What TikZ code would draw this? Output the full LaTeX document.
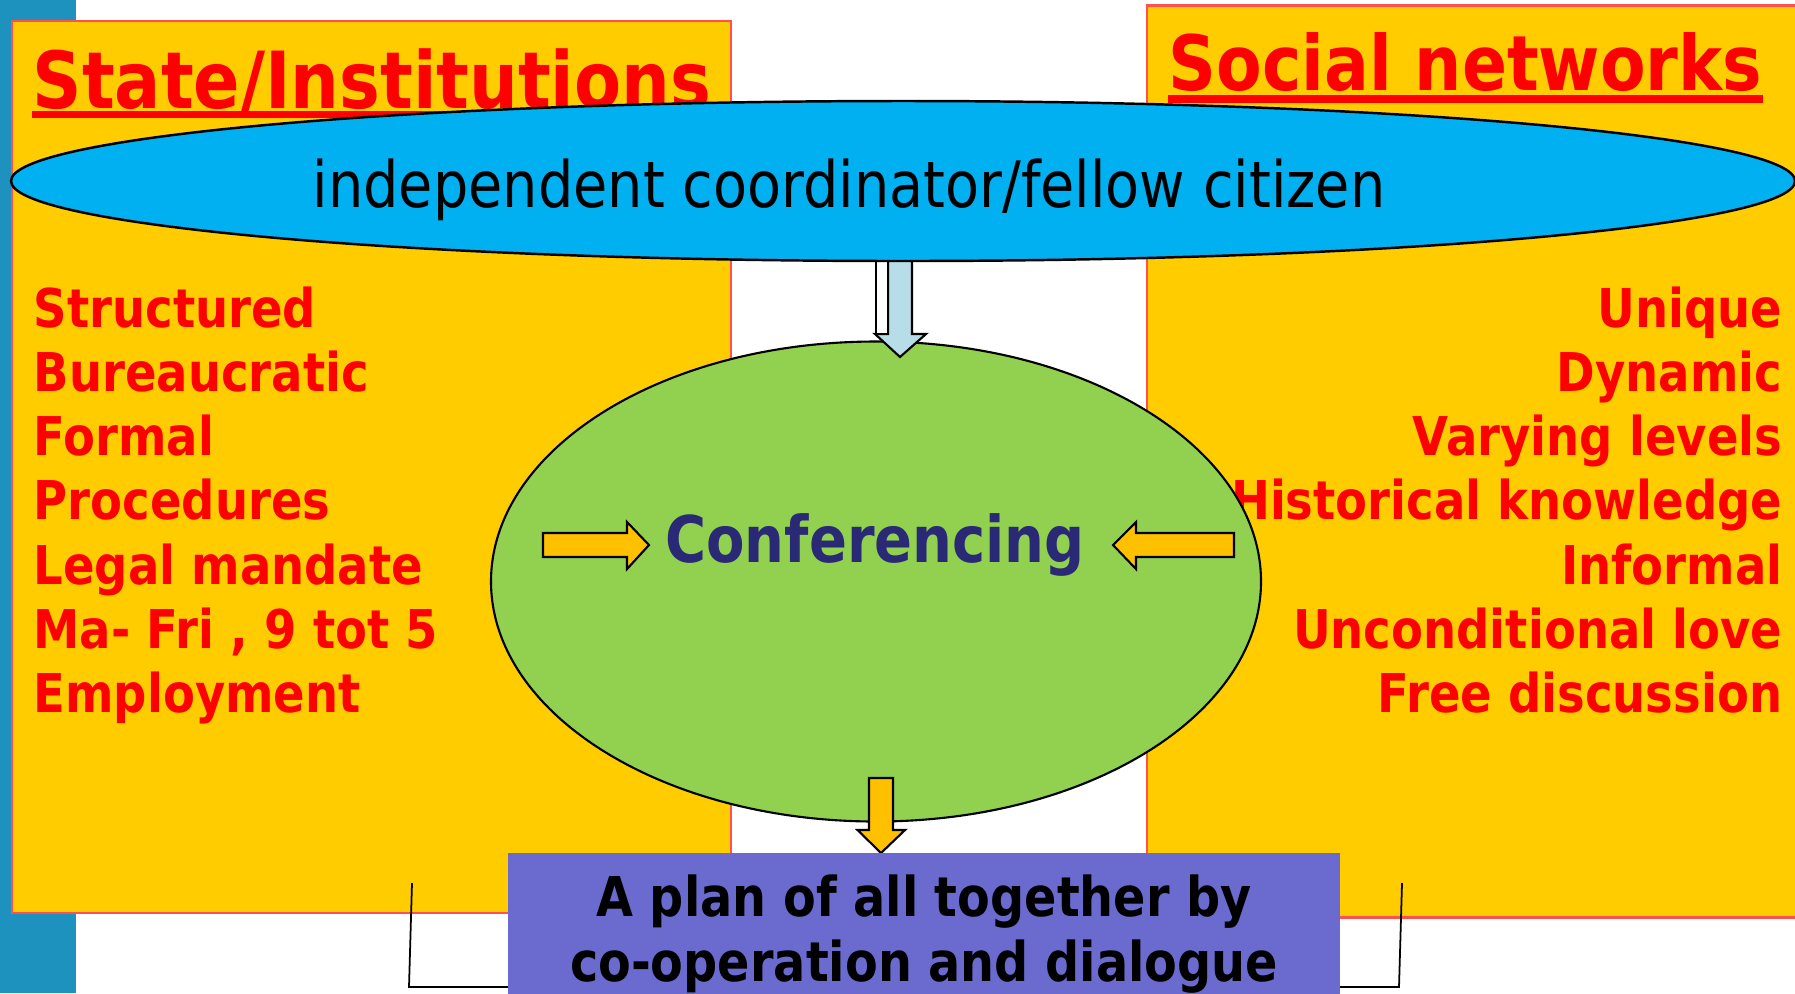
\documentclass[tikz,border=0pt]{standalone}
\usepackage{fontspec}
\setmainfont{DejaVu Sans}[FakeStretch=0.87]
\usetikzlibrary{calc}
\definecolor{stripblue}{RGB}{30,146,190}
\definecolor{boxyellow}{RGB}{255,204,0}
\definecolor{boxedge}{RGB}{255,80,80}
\definecolor{skyblue}{RGB}{0,176,240}
\definecolor{leafgreen}{RGB}{146,208,80}
\definecolor{arrowyellow}{RGB}{255,192,0}
\definecolor{paleblue}{RGB}{183,221,232}
\definecolor{planviolet}{RGB}{107,107,207}
\definecolor{navytext}{RGB}{41,41,117}

\begin{document}
\begin{tikzpicture}[x=0.01cm,y=-0.01cm,
	side/.style={fill=boxyellow,draw=boxedge,line width=0.6pt},
	heading/.style={inner sep=0pt,text=red,font=\bfseries\fontsize{22.4}{26}\selectfont},
	item/.style={inner sep=0pt,text=red,font=\bfseries\fontsize{15.2}{18}\selectfont},
	plan/.style={inner sep=0pt,text=black,font=\bfseries\fontsize{15.6}{19}\selectfont},
	blockarrow/.style={draw=black,line width=0.6pt,line join=miter}]
			%%%%% START %%%%%
			
			\useasboundingbox[fill=white] (0,0) rectangle (1795,993);
			\fill[stripblue] (0,0) rectangle (76,993);
			
			\draw[side] (12,21) rectangle (731,913);
			\draw[side] (1147,5.5) rectangle (1810,917.5);
			
			\node[heading,anchor=base west] (statehead) at (32,108) {State/Institutions};
			\fill[red] ($(statehead.base west)+(0,3)$) rectangle ($(statehead.base east)+(0,10)$);
			\node[heading,anchor=base west,font=\bfseries\fontsize{21.7}{26}\selectfont] (socialhead) at (1168,90) {Social networks};
			\fill[red] ($(socialhead.base west)+(0,5)$) rectangle ($(socialhead.base east)+(0,12.5)$);
			
			\foreach \txt [count=\i] in {Structured,Bureaucratic,Formal,Procedures,Legal mandate,{Ma- Fri , 9 tot 5},Employment}
				\node[item,anchor=base west] (state\i) at (33,{327.3+64.2*(\i-1)}) {\txt};
			\foreach \txt [count=\i] in {Unique,Dynamic,Varying levels,Historical knowledge,Informal,Unconditional love,Free discussion}
				\node[item,anchor=base east] (social\i) at (1783,{327.3+64.2*(\i-1)}) {\txt};
			
			\draw[line width=0.5pt] (412,883) -- (409,987) -- (508,987);
			\draw[line width=0.5pt] (1402,883) -- (1399,987) -- (1340,987);
			
			\draw[fill=leafgreen,line width=0.6pt] (876,581.5) ellipse (385 and 240);
			\draw[blockarrow,fill=arrowyellow] (543,533) -- (627,533) -- (627,522) -- (649,545) -- (627,569) -- (627,557) -- (543,557) -- cycle;
			\draw[blockarrow,fill=arrowyellow] (1234,533) -- (1136,533) -- (1136,522) -- (1113,545) -- (1136,569) -- (1136,557) -- (1234,557) -- cycle;
			\node[anchor=base,inner sep=0pt,text=navytext,font=\bfseries\fontsize{18.3}{22}\selectfont] (conf) at (875,562) {Conferencing};
			
			\draw[blockarrow,fill=paleblue] (888,258) -- (912,258) -- (912,334) -- (926,334) -- (900,357) -- (875,334) -- (888,334) -- cycle;
			\draw[blockarrow,fill=white] (876,258) rectangle (888,334);
			
			\draw[fill=skyblue,line width=0.7pt] (903,181) ellipse (892 and 80);
			\node[anchor=base,inner sep=0pt,font=\fontsize{18.2}{22}\selectfont] (coordinator) at (849,207) {independent coordinator/fellow citizen};
			
			\draw[blockarrow,fill=arrowyellow] (869,778) -- (893,778) -- (893,830) -- (905,830) -- (881,853) -- (857.5,830) -- (869,830) -- cycle;
			\fill[planviolet] (508,853) rectangle (1340,1000);
			\node[plan,anchor=base] (plan1) at (924,916.7) {A plan of all together by};
			\node[plan,anchor=base] (plan2) at (924,981.7) {co-operation and dialogue};
			
			%%%%% END %%%%%
\end{tikzpicture}
\end{document}
